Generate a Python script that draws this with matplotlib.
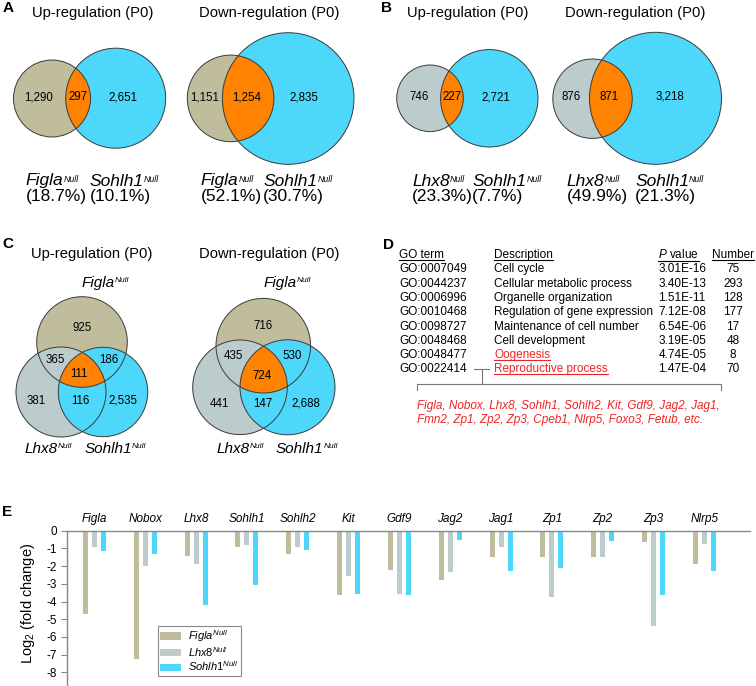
import numpy as np
import matplotlib
matplotlib.use("Agg")
import matplotlib.pyplot as plt
from matplotlib.patches import Circle, Polygon

plt.rcParams['font.family'] = ['Liberation Sans', 'DejaVu Sans']
plt.rcParams['mathtext.fontset'] = 'custom'
plt.rcParams['mathtext.rm'] = 'Liberation Sans'
plt.rcParams['mathtext.it'] = 'Liberation Sans:italic'
plt.rcParams['axes.unicode_minus'] = False

W, H = 756, 686
TAN = '#bfbd9c'
GREY = '#bccccc'
CYAN = '#4dd7fa'
ORANGE = '#ff8200'
RED = '#ee2424'
EDGE = '#3a3a3a'

# ---------------- data ----------------
# two-set venns: [only first, both, only Sohlh1]
a_up = [1290, 297, 2651]
a_down = [1151, 1254, 2835]
a_pct_up = [18.7, 10.1]
a_pct_down = [52.1, 30.7]
b_up = [746, 227, 2721]
b_down = [876, 871, 3218]
b_pct_up = [23.3, 7.7]
b_pct_down = [49.9, 21.3]
# three-set venns: [Figla only, Figla+Lhx8, Figla+Sohlh1, all, Lhx8 only, Lhx8+Sohlh1, Sohlh1 only]
c_up = [925, 365, 186, 111, 381, 116, 2535]
c_down = [716, 435, 530, 724, 441, 147, 2688]

go_terms = ['GO:0007049', 'GO:0044237', 'GO:0006996', 'GO:0010468',
            'GO:0098727', 'GO:0048468', 'GO:0048477', 'GO:0022414']
go_desc = ['Cell cycle', 'Cellular metabolic process', 'Organelle organization',
           'Regulation of gene expression', 'Maintenance of cell number',
           'Cell development', 'Oogenesis', 'Reproductive process']
go_p = ['3.01E-16', '3.40E-13', '1.51E-11', '7.12E-08', '6.54E-06',
        '3.19E-05', '4.74E-05', '1.47E-04']
go_n = [75, 293, 128, 177, 17, 48, 8, 70]
go_red = [False, False, False, False, False, False, True, True]
repro_genes = ['Figla, Nobox, Lhx8, Sohlh1, Sohlh2, Kit, Gdf9, Jag2, Jag1,',
               'Fmn2, Zp1, Zp2, Zp3, Cpeb1, Nlrp5, Foxo3, Fetub, etc.']

genes = ['Figla', 'Nobox', 'Lhx8', 'Sohlh1', 'Sohlh2', 'Kit', 'Gdf9',
         'Jag2', 'Jag1', 'Zp1', 'Zp2', 'Zp3', 'Nlrp5']
figla_fc = [-4.73, -7.27, -1.43, -0.90, -1.30, -3.65, -2.22, -2.81, -1.47, -1.47, -1.51, -0.66, -1.88]
lhx8_fc = [-0.90, -2.00, -1.88, -0.79, -0.94, -2.56, -3.60, -2.34, -0.90, -3.73, -1.47, -5.37, -0.73]
sohlh1_fc = [-1.15, -1.32, -4.18, -3.07, -1.09, -3.58, -3.63, -0.53, -2.26, -2.09, -0.56, -3.63, -2.26]


def overlap_polygon(circles, n=3000):
    pts = []
    for i, (cx, cy, r) in enumerate(circles):
        t = np.linspace(0, 2 * np.pi, n, endpoint=False)
        x = cx + r * np.cos(t)
        y = cy + r * np.sin(t)
        keep = np.ones(n, bool)
        for j, (ox, oy, orr) in enumerate(circles):
            if j != i:
                keep &= (x - ox) ** 2 + (y - oy) ** 2 <= orr ** 2
        pts.append(np.column_stack([x[keep], y[keep]]))
    pts = np.vstack(pts)
    c = pts.mean(axis=0)
    order = np.argsort(np.arctan2(pts[:, 1] - c[1], pts[:, 0] - c[0]))
    return pts[order]


def venn(ax, circles, colors, spots, counts, size=8.3):
    for (cx, cy, r), col in zip(circles, colors):
        ax.add_patch(Circle((cx, cy), r, fc=col, ec='none'))
    ax.add_patch(Polygon(overlap_polygon(circles), closed=True, fc=ORANGE, ec='none'))
    for (cx, cy, r) in circles:
        ax.add_patch(Circle((cx, cy), r, fc='none', ec=EDGE, lw=0.7))
    for (x, y), n in zip(spots, counts):
        ax.text(x, y, f'{n:,}', ha='center', va='center', fontsize=size)


def null_label(ax, x, y, name, size, sup, ha='left'):
    t = ax.text(x, y, name, fontsize=size, style='italic', ha=ha, va='center')
    ax.annotate('Null', xy=(1.0, 0.9), xycoords=t, fontsize=sup,
                style='italic', ha='left', va='top')
    return t


def null_math(name):
    return r'$\mathit{%s}^{\mathit{Null}}$' % name


fig = plt.figure(figsize=(W / 100, H / 100), dpi=100)
ax = fig.add_axes([0, 0, 1, 1])
ax.set_xlim(0, W)
ax.set_ylim(H, 0)
ax.axis('off')

# panel letters
for s, x, y in [('A', 8, 8.5), ('B', 387, 8.5), ('C', 8, 244), ('D', 388, 245), ('E', 7, 512)]:
    ax.text(x, y, s, fontsize=11, fontweight='bold', ha='center', va='center')

# ---- A and B
two_set = [
    (a_up, a_pct_up, TAN, 'Figla', 'Up-regulation (P0)', 93,
     [(52, 98.5, 38.5), (115.7, 98.2, 50)], [39, 78, 123], 97, (25.7, 90)),
    (a_down, a_pct_down, TAN, 'Figla', 'Down-regulation (P0)', 269.5,
     [(230.6, 98.4, 43.3), (288.2, 98.5, 65.8)], [205, 246.7, 304], 97.3, (200.7, 263.3)),
    (b_up, b_pct_up, GREY, 'Lhx8', 'Up-regulation (P0)', 467.5,
     [(430, 98.3, 33.3), (489.3, 98.3, 48.7)], [419.3, 451.7, 496], 97, (412.3, 472.3)),
    (b_down, b_pct_down, GREY, 'Lhx8', 'Down-regulation (P0)', 635,
     [(592.5, 98.7, 39.7), (655.5, 98.3, 66)], [571, 609.3, 670], 96.7, (566.7, 635)),
]
for counts, pct, col, first, title, tx, circ, lx, ly, gx in two_set:
    ax.text(tx, 13.5, title, fontsize=10.6, ha='center', va='center')
    venn(ax, circ, [col, CYAN], [(x, ly) for x in lx], counts)
    null_label(ax, gx[0], 181, first, 12.5, 6.3)
    null_label(ax, gx[1], 181, 'Sohlh1', 12.5, 6.3)
    ax.text(gx[0], 197, f'({pct[0]}%)', fontsize=12.5, ha='left', va='center')
    ax.text(gx[1], 197, f'({pct[1]}%)', fontsize=12.5, ha='left', va='center')

# ---- C
three_set = [
    (c_up, 'Up-regulation (P0)', 92,
     [(82, 342, 45.3), (61, 392, 45), (103, 392, 44.7)],
     [(82.3, 328.3), (55, 360), (109, 360), (79, 374), (36, 400.7), (80, 400.7), (123.3, 400.7)],
     (24.3, 84.3)),
    (c_down, 'Down-regulation (P0)', 269.5,
     [(263.3, 345.7, 47.3), (240, 387.3, 47.3), (287.5, 387.3, 47.5)],
     [(263.3, 325.7), (233.3, 356), (292.3, 356), (261.7, 375.7), (219.3, 404), (262.7, 404), (306, 404)],
     (216.7, 276)),
]
for counts, title, tx, circ, spots, gx in three_set:
    ax.text(tx, 254, title, fontsize=10.6, ha='center', va='center')
    venn(ax, circ, [TAN, GREY, CYAN], spots, counts)
    null_label(ax, circ[0][0], 283, 'Figla', 11, 6)
    null_label(ax, gx[0], 449, 'Lhx8', 11, 6)
    null_label(ax, gx[1], 449, 'Sohlh1', 11, 6)

# ---- D table
cols = [399.3, 494.3, 658.3]
heads = [ax.text(cols[0], 255, 'GO term', fontsize=8.5, va='center'),
         ax.text(cols[1], 255, 'Description', fontsize=8.5, va='center'),
         ax.text(cols[2], 255, r'$P$ value', fontsize=8.5, va='center'),
         ax.text(733, 255, 'Number', fontsize=8.5, va='center', ha='center')]
red_txt = []
for i in range(len(go_terms)):
    y = 269.3 + 14.3 * i
    ax.text(cols[0], y, go_terms[i], fontsize=8.5, va='center')
    t = ax.text(cols[1], y, go_desc[i], fontsize=8.5, va='center',
                color=RED if go_red[i] else 'black')
    if go_red[i]:
        red_txt.append(t)
    ax.text(cols[2], y, go_p[i], fontsize=8.5, va='center')
    ax.text(733, y, str(go_n[i]), fontsize=8.5, va='center', ha='center')

lc = '#777777'
ax.plot([474, 489], [369.3, 369.3], color=lc, lw=0.8)
ax.plot([481.7, 481.7], [369.3, 384.3], color=lc, lw=0.8)
ax.plot([416.7, 416.7, 720.7, 720.7], [390, 384.3, 384.3, 390], color=lc, lw=0.8)
for k, line in enumerate(repro_genes):
    ax.text(416.7, 405.7 + 14.3 * k, line, fontsize=8.5, style='italic', color=RED, va='center')

# ---- E bar chart
ax_e = fig.add_axes([67 / W, 0, (750 - 67) / W, (H - 530.7) / H])
ax_e.patch.set_alpha(0)
x = np.arange(len(genes))
off = 9 / 50.8
bw = 5 / 50.8
ax_e.bar(x - off, figla_fc, bw, color=TAN, label=null_math('Figla'))
ax_e.bar(x, lhx8_fc, bw, color=GREY, label=null_math('Lhx8'))
ax_e.bar(x + off, sohlh1_fc, bw, color=CYAN, label=null_math('Sohlh1'))
ax_e.set_xlim(-0.541, 12.90)
ax_e.set_ylim(-(H - 530.7) / 17.7, 0)
ax_e.set_yticks(np.arange(0, -9, -1))
ax_e.set_yticklabels([str(v) for v in range(0, -9, -1)])
ax_e.set_xticks([])
ax_e.tick_params(axis='y', direction='out', length=4, width=0.8, color='#888888',
                 labelsize=8.5, pad=3)
for s in ['right', 'bottom']:
    ax_e.spines[s].set_visible(False)
for s in ['top', 'left']:
    ax_e.spines[s].set_color('#888888')
    ax_e.spines[s].set_linewidth(1.0)
ax_e.set_ylabel(r'Log$_2$ (fold change)', fontsize=10.5)
ax_e.yaxis.set_label_coords(-0.044, 0.534)
for i, g in enumerate(genes):
    ax_e.annotate(g, xy=(i, 0), xytext=(0, 8.4), textcoords='offset points',
                  ha='center', va='center', fontsize=8.5, style='italic',
                  annotation_clip=False)

leg = ax_e.legend(loc='upper left', bbox_to_anchor=(158 / W, 1 - 626 / H),
                  bbox_transform=fig.transFigure, borderaxespad=0, fontsize=8,
                  handlelength=1.9, handleheight=0.63, handletextpad=0.63,
                  borderpad=0.2, labelspacing=0.08, fancybox=False, framealpha=1)
leg.get_frame().set_edgecolor('#888888')
leg.get_frame().set_linewidth(0.8)

# underlines for table headers and red terms
fig.canvas.draw()
inv = ax.transData.inverted()
for t, c in [(h, 'black') for h in heads] + [(r, RED) for r in red_txt]:
    bb = t.get_window_extent()
    (x0, y0), (x1, _) = inv.transform([(bb.x0, bb.y0), (bb.x1, bb.y1)])
    ax.plot([x0, x1], [y0 - 1, y0 - 1], color=c, lw=0.8)

fig.savefig('out.png', dpi=100)
